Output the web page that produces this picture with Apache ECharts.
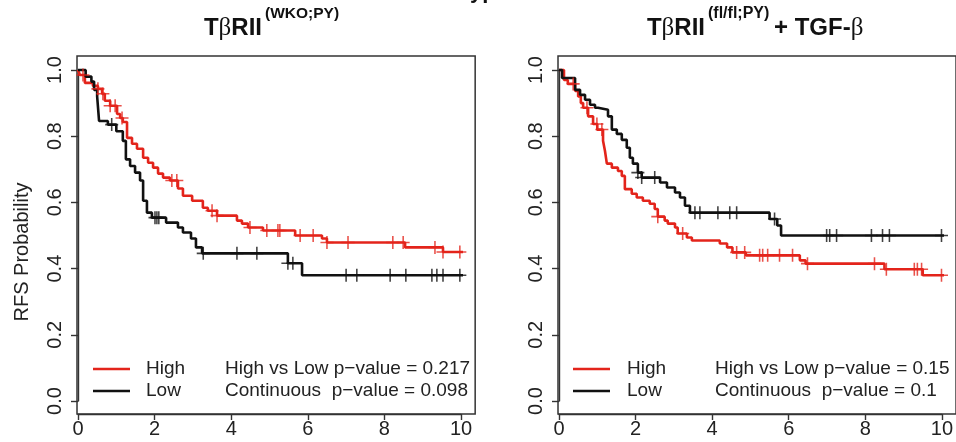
<!DOCTYPE html>
<html><head><meta charset="utf-8">
<script src="https://cdn.jsdelivr.net/npm/echarts@6/dist/echarts.min.js"></script>
<style>html,body{margin:0;padding:0;background:#fff}#c{width:956px;height:442px}</style>
</head><body><div id="c"></div><script>
// ---------- DATA ----------
// Left panel: TβRII(WKO;PY)
var leftHighT = [0,0.05,0.18,0.39,0.52,0.63,0.70,0.84,1.02,1.10,1.17,1.28,1.41,1.54,1.70,1.83,1.96,2.09,2.22,2.40,2.61,2.74,2.98,3.26,3.39,3.63,4.15,4.28,4.44,4.83,5.67,6.37,6.50,8.54,9.53,10.18];
var leftHighS = [1,0.985,0.961,0.952,0.943,0.928,0.907,0.892,0.867,0.855,0.843,0.795,0.777,0.762,0.735,0.72,0.705,0.687,0.675,0.666,0.642,0.62,0.605,0.584,0.575,0.56,0.545,0.536,0.524,0.515,0.50,0.491,0.479,0.464,0.450,0.450];
var leftHighCens = [0.13,0.52,0.65,0.84,0.97,1.15,2.45,2.58,3.50,3.63,4.49,4.93,5.22,5.27,5.80,6.14,6.50,7.05,8.22,8.49,9.32,9.53,9.97];
var leftLowT = [0,0.2,0.35,0.42,0.5,0.55,0.78,1.0,1.17,1.25,1.36,1.49,1.62,1.70,1.80,1.93,2.30,2.61,2.74,2.95,3.08,3.24,5.48,5.85,10.18];
var leftLowS = [1,0.98,0.965,0.94,0.92,0.846,0.835,0.815,0.786,0.73,0.71,0.69,0.666,0.605,0.569,0.554,0.539,0.524,0.509,0.491,0.464,0.446,0.416,0.38,0.38];
var leftLowCens = [0.88,2.01,2.06,2.11,3.27,4.15,4.67,5.48,5.61,7.0,7.28,8.15,8.56,9.24,9.37,9.53,9.97];
// Right panel: TβRII(fl/fl;PY) + TGF-β
var rightHighT = [0,0.13,0.23,0.42,0.5,0.57,0.63,0.76,0.89,1.0,1.15,1.2,1.25,1.38,1.54,1.64,1.72,1.9,2.03,2.19,2.37,2.5,2.58,2.76,2.84,3.03,3.1,3.34,3.47,4.2,4.39,4.53,4.88,6.29,6.44,8.5,9.5,10.15];
var rightHighS = [1,0.97,0.958,0.937,0.92,0.90,0.886,0.86,0.837,0.82,0.786,0.756,0.717,0.705,0.695,0.68,0.64,0.626,0.615,0.605,0.596,0.58,0.557,0.545,0.536,0.524,0.506,0.494,0.485,0.476,0.464,0.449,0.44,0.425,0.415,0.398,0.38,0.38];
var rightHighCens = [0.37,0.73,0.99,1.12,2.58,3.23,4.64,4.85,5.24,5.32,5.45,5.76,6.10,6.49,8.24,8.55,9.28,9.36,9.47,9.99];
var rightLowT = [0,0.08,0.42,0.55,0.68,0.81,0.94,1.02,1.28,1.38,1.51,1.64,1.77,1.85,1.93,2.06,2.16,2.64,2.82,3.03,3.16,3.29,3.42,5.5,5.7,5.8,10.15];
var rightLowS = [1,0.976,0.94,0.925,0.91,0.895,0.886,0.88,0.86,0.82,0.807,0.789,0.765,0.735,0.717,0.69,0.675,0.66,0.645,0.63,0.615,0.59,0.569,0.55,0.53,0.50,0.50];
var rightLowCens = [2.06,2.16,2.5,3.55,3.68,4.15,4.46,4.64,5.63,6.99,7.07,7.25,8.16,8.45,8.63,9.99];
var legendNames = ['High','Low'];
var leftPText = ['High vs Low p\u2212value = 0.217','Continuous  p\u2212value = 0.098'];
var rightPText = ['High vs Low p\u2212value = 0.15','Continuous  p\u2212value = 0.1'];
var yAxisTitle = 'RFS Probability';

// ---------- HELPERS ----------
var RED = '#e3241b', BLACK = '#111111', AX = '#333333';
var FONT = '"Liberation Sans", Arial, Helvetica, sans-serif';
function pairs(T,S){ return T.map(function(t,i){return [t,S[i]];}); }
function censPts(T,S,C){
  return C.map(function(c){
    var s = S[0];
    for (var i=0;i<T.length;i++){ if (T[i] <= c) s = S[i]; }
    return [c,s];
  });
}
var plus = 'path://M-0.12,-1 L0.12,-1 L0.12,-0.12 L1,-0.12 L1,0.12 L0.12,0.12 L0.12,1 L-0.12,1 L-0.12,0.12 L-1,0.12 L-1,-0.12 L-0.12,-0.12 Z';

function xAx(g){
  return {type:'value', gridIndex:g, min:0, max:10, interval:2, offset:13,
    axisLine:{show:true, onZero:false, lineStyle:{color:AX,width:1.4}},
    axisTick:{show:true, length:6, lineStyle:{color:AX,width:1.4}},
    axisLabel:{fontSize:20, color:'#222', margin:5, fontFamily:FONT},
    splitLine:{show:false}};
}
function yAx(g){
  return {type:'value', gridIndex:g, min:0, max:1, interval:0.2, offset:1,
    axisLine:{show:true, lineStyle:{color:AX,width:1.4}},
    axisTick:{show:true, length:7, lineStyle:{color:AX,width:1.4}},
    axisLabel:{fontSize:20, color:'#222', margin:12, rotate:90, fontFamily:FONT,
      formatter:function(v){return v.toFixed(1);}},
    splitLine:{show:false}};
}
function lineS(name, idx, T, S, color){
  return {type:'line', name:name, xAxisIndex:idx, yAxisIndex:idx, data:pairs(T,S), step:'end',
    symbol:'none', clip:false, lineStyle:{color:color, width:2.6}, animation:false, z:3};
}
function censS(name, idx, T, S, C, color){
  return {type:'scatter', name:name, xAxisIndex:idx, yAxisIndex:idx, data:censPts(T,S,C),
    symbol:plus, symbolSize:13, itemStyle:{color:color}, animation:false, z:4};
}

var chart = echarts.init(document.getElementById('c'), null, {renderer:'canvas'});
var option = {
  backgroundColor:'#ffffff',
  animation:false,
  grid:[{left:78, top:70, width:383, height:331},{left:559, top:70, width:383.5, height:331}],
  xAxis:[xAx(0), xAx(1)],
  yAxis:[yAx(0), yAx(1)],
  series:[
    lineS('High',0,leftHighT,leftHighS,RED),
    lineS('Low',0,leftLowT,leftLowS,BLACK),
    censS('High',0,leftHighT,leftHighS,leftHighCens,RED),
    censS('Low',0,leftLowT,leftLowS,leftLowCens,BLACK),
    lineS('High',1,rightHighT,rightHighS,RED),
    lineS('Low',1,rightLowT,rightLowS,BLACK),
    censS('High',1,rightHighT,rightHighS,rightHighCens,RED),
    censS('Low',1,rightLowT,rightLowS,rightLowCens,BLACK)
  ]
};
chart.setOption(option);

// ---------- BOX, TITLES, LEGENDS ----------
function px(g, p){ return chart.convertToPixel({gridIndex:g}, p); }
var els = [];
[0,1].forEach(function(g){
  var a = px(g,[-0.026,1.042]), b = px(g,[10.37,-0.039]);
  els.push({type:'rect', shape:{x:a[0],y:a[1],width:b[0]-a[0],height:b[1]-a[1]},
    style:{fill:'none', stroke:AX, lineWidth:1.5}, z:1});
});
function legend(x0, xText, xP, pTexts){
  var ys = [369, 391], cols=[RED,BLACK];
  ys.forEach(function(y,i){
    els.push({type:'line', shape:{x1:x0,y1:y,x2:x0+37,y2:y}, style:{stroke:cols[i], lineWidth:2.6}, z:5});
    els.push({type:'text', x:xText, y:y, style:{text:legendNames[i], fill:'#222', font:'19px '+FONT, textVerticalAlign:'middle'}, z:5});
    els.push({type:'text', x:xP, y:y, style:{text:pTexts[i], fill:'#222', font:'19px '+FONT, textVerticalAlign:'middle'}, z:5});
  });
}
legend(93,146,225,leftPText);
legend(573,627,715,rightPText);

els.push({type:'text', x:22, y:252, rotation:Math.PI/2,
  style:{text:yAxisTitle, fill:'#222', font:'20px '+FONT, textAlign:'center', textVerticalAlign:'middle'}, z:5});

var rich = {
  b:{fontSize:24, fontWeight:'bold', fontFamily:FONT, fill:'#111'},
  g:{fontSize:25, fontFamily:'"Liberation Serif", "DejaVu Serif", serif', fill:'#111'},
  s:{fontSize:16, fontWeight:'bold', fontFamily:FONT, fill:'#111'}
};
els.push({type:'text', x:262, y:28, style:{text:'{b|T}{g|\u03b2}{b|RII}', rich:rich, textAlign:'right', textVerticalAlign:'middle'}, z:5});
els.push({type:'text', x:265, y:14, style:{text:'(WKO;PY)', font:'bold 15.5px '+FONT, fill:'#111', textVerticalAlign:'middle'}, z:5});
els.push({type:'text', x:705, y:28, style:{text:'{b|T}{g|\u03b2}{b|RII}', rich:rich, textAlign:'right', textVerticalAlign:'middle'}, z:5});
els.push({type:'text', x:708, y:14, style:{text:'(fl/fl;PY)', font:'bold 16px '+FONT, fill:'#111', textVerticalAlign:'middle'}, z:5});
els.push({type:'text', x:774, y:28, style:{text:'{b|+ TGF-}{g|\u03b2}', rich:rich, textVerticalAlign:'middle'}, z:5});
els.push({type:'text', x:470, y:-8, style:{text:'yp', font:'bold 22px '+FONT, fill:'#111', textVerticalAlign:'middle'}, z:5});
chart.setOption({graphic:{elements:els}});
</script></body></html>
